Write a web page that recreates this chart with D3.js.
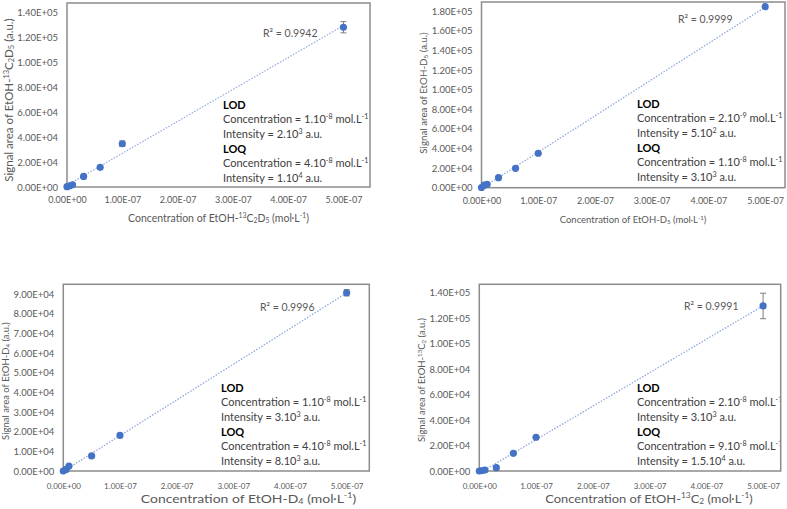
<!DOCTYPE html>
<html>
<head>
<meta charset="utf-8">
<script src="https://cdn.jsdelivr.net/npm/d3@7"></script>
<style>
  body { margin: 0; background: #fff; }
  text { font-family: Lato, "Liberation Sans", sans-serif; }
</style>
</head>
<body>
<svg id="chart" width="787" height="509"></svg>
<script>
// ---- data ----
// concentrations in mol/L, signal areas in a.u., error = half bar height
const conc13C2D5 = [0, 5e-9, 1e-8, 3e-8, 6e-8, 1e-7, 5e-7];
const sig13C2D5  = [300, 1000, 1800, 8500, 15800, 34800, 128500];
const err13C2D5  = [0, 0, 0, 0, 0, 2200, 4500];

const concD5 = [0, 5e-9, 1e-8, 3e-8, 6e-8, 1e-7, 5e-7];
const sigD5  = [200, 2600, 3500, 10200, 19800, 35100, 184500];
const errD5  = [0, 0, 0, 0, 0, 0, 0];

const concD4 = [0, 5e-9, 1e-8, 5e-8, 1e-7, 5e-7];
const sigD4  = [0, 800, 2500, 7700, 18100, 90800];
const errD4  = [0, 0, 0, 0, 0, 1600];

const conc13C2 = [0, 5e-9, 1e-8, 3e-8, 6e-8, 1e-7, 5e-7];
const sig13C2  = [0, 300, 800, 2600, 13900, 26500, 129500];
const err13C2  = [0, 0, 0, 0, 0, 0, 10000];

const r2Labels = ["R\u00B2 = 0.9942", "R\u00B2 = 0.9999", "R\u00B2 = 0.9996", "R\u00B2 = 0.9991"];

// rich text as [text, kind] segments; kind: "" | "sup" | "sub"
const xTitles = [
  [["Concentration of EtOH-", ""], ["13", "sup"], ["C", ""], ["2", "sub"], ["D", ""], ["5", "sub"], [" (mol\u00B7L", ""], ["-1", "sup"], [")", ""]],
  [["Concentration of EtOH-D", ""], ["5", "sub"], [" (mol\u00B7L", ""], ["-1", "sup"], [")", ""]],
  [["Concentration of EtOH-D", ""], ["4", "sub"], [" (mol\u00B7L", ""], ["-1", "sup"], [")", ""]],
  [["Concentration of EtOH-", ""], ["13", "sup"], ["C", ""], ["2", "sub"], [" (mol\u00B7L", ""], ["-1", "sup"], [")", ""]]
];
const yTitles = [
  [["Signal area of EtOH-", ""], ["13", "sup"], ["C", ""], ["2", "sub"], ["D", ""], ["5", "sub"], [" (a.u.)", ""]],
  [["Signal area  of EtOH-D", ""], ["5", "sub"], [" (a.u.)", ""]],
  [["Signal area  of EtOH-D", ""], ["4", "sub"], [" (a.u.)", ""]],
  [["Signal area  of EtOH-", ""], ["13", "sup"], ["C", ""], ["2", "sub"], ["  (a.u.)", ""]]
];

const lodConc = ["1.10", "2.10", "1.10", "2.10"];
const lodConcExp = ["-8", "-9", "-8", "-8"];
const lodInt = ["2.10", "5.10", "3.10", "3.10"];
const lodIntExp = ["3", "2", "3", "3"];
const loqConc = ["4.10", "1.10", "4.10", "9.10"];
const loqConcExp = ["-8", "-8", "-8", "-8"];
const loqInt = ["1.10", "3.10", "8.10", "1.5.10"];
const loqIntExp = ["4", "3", "3", "4"];

const xTickValues = [0, 1e-7, 2e-7, 3e-7, 4e-7, 5e-7];
const yTickMax  = [1.4e5, 1.8e5, 9e4, 1.4e5];
const yTickStep = [2e4, 2e4, 1e4, 2e4];

// ---- layout (pixel boxes of each plot area, font sizes) ----
const panels = [
  { conc: conc13C2D5, sig: sig13C2D5, err: err13C2D5, left: 67, right: 370, top: 3, bottom: 187, xMax: 5.48e-7, yMax: 1.48e5,
    r2: [263, 33], note: [223, 105], yTitleSize: 11.5, yTitleY: 100, xTitleSize: 10.5, xTitleX: 218.5, xTitleDy: 31.5, xTitleStretch: 1, xTickSize: 9, xTickPad: 10 },
  { conc: concD5, sig: sigD5, err: errD5, left: 481.5, right: 785, top: 2, bottom: 187.7, xMax: 5.35e-7, yMax: 1.893e5,
    r2: [678, 19], note: [637, 104], yTitleSize: 9.8, yTitleY: 93, xTitleSize: 9.5, xTitleX: 633, xTitleDy: 31.5, xTitleStretch: 1, xTickSize: 9, xTickPad: 10 },
  { conc: concD4, sig: sigD4, err: errD4, left: 63.3, right: 369.3, top: 284.3, bottom: 471, xMax: 5.4e-7, yMax: 9.51e4,
    r2: [260, 307], note: [221, 388], yTitleSize: 9.5, yTitleY: 381, xTitleSize: 10.5, xTitleX: 248.5, xTitleDy: 28, xTitleStretch: 1.33, xTickSize: 8, xTickPad: 12 },
  { conc: conc13C2, sig: sig13C2, err: err13C2, left: 479.3, right: 780.7, top: 284.3, bottom: 471, xMax: 5.31e-7, yMax: 1.465e5,
    r2: [684, 306], note: [637, 388], yTitleSize: 9.5, yTitleY: 380, xTitleSize: 10.5, xTitleX: 649, xTitleDy: 28, xTitleStretch: 1.23, xTickSize: 8, xTickPad: 12 }
];

const svg = d3.select("#chart");

// Excel style scientific label, e.g. 1.40E+05
function sci(v) {
  const s = (+v).toExponential(2).toUpperCase();
  return s.replace(/E([+-])(\d)$/, "E$10$2");
}

// add segments of rich text to a text element
function rich(textSel, segs, size) {
  segs.forEach(([t, kind]) => {
    const ts = textSel.append("tspan").text(t);
    if (kind === "sup") ts.attr("font-size", size * 0.65).attr("baseline-shift", "super");
    else if (kind === "sub") ts.attr("font-size", size * 0.65).attr("baseline-shift", "-20%");
  });
}

panels.forEach((p, i) => {
  const x = d3.scaleLinear().domain([0, p.xMax]).range([p.left, p.right]);
  const y = d3.scaleLinear().domain([0, p.yMax]).range([p.bottom, p.top]);
  const g = svg.append("g");

  // clip for the annotation text which runs into the border
  const clipId = "clip" + i;
  svg.append("clipPath").attr("id", clipId)
    .append("rect")
    .attr("x", p.left).attr("y", p.top)
    .attr("width", p.right - p.left - 1).attr("height", p.bottom - p.top);

  // axes (labels only, no lines)
  const yTicks = d3.range(0, yTickMax[i] + yTickStep[i] / 2, yTickStep[i]);
  const yAxis = g.append("g")
    .attr("transform", `translate(${p.left},0)`)
    .call(d3.axisLeft(y).tickValues(yTicks).tickFormat(sci).tickSize(0).tickPadding(9));
  const xAxis = g.append("g")
    .attr("transform", `translate(0,${p.bottom})`)
    .call(d3.axisBottom(x).tickValues(xTickValues).tickFormat(sci).tickSize(0).tickPadding(p.xTickPad));
  [xAxis, yAxis].forEach(a => {
    a.select(".domain").remove();
    a.selectAll("text").attr("fill", "#595959")
      .attr("font-family", "Lato, 'Liberation Sans', sans-serif");
  });
  yAxis.selectAll("text").attr("font-size", 9.5);
  xAxis.selectAll("text").attr("font-size", p.xTickSize);

  // plot area border
  g.append("rect")
    .attr("x", p.left).attr("y", p.top)
    .attr("width", p.right - p.left).attr("height", p.bottom - p.top)
    .attr("fill", "none").attr("stroke", "#8c8c8c").attr("stroke-width", 1.5);

  // linear trendline (least squares over the points)
  const mx = d3.mean(p.conc), my = d3.mean(p.sig);
  const slope = d3.sum(p.conc, (c, k) => (c - mx) * (p.sig[k] - my)) / d3.sum(p.conc, c => (c - mx) * (c - mx));
  const icpt = my - slope * mx;
  const xs = [d3.min(p.conc), d3.max(p.conc)];
  g.append("path")
    .attr("d", d3.line().x(d => x(d)).y(d => y(slope * d + icpt))(xs))
    .attr("fill", "none").attr("stroke", "#8faadc").attr("stroke-width", 1.3)
    .attr("stroke-dasharray", "1.5,1.5");

  // error bars
  const pts = p.conc.map((c, k) => ({ c: c, s: p.sig[k], e: p.err[k] }));
  const eb = g.selectAll(".eb").data(pts.filter(d => d.e > 0)).enter().append("g");
  eb.append("line").attr("x1", d => x(d.c)).attr("x2", d => x(d.c))
    .attr("y1", d => y(d.s - d.e)).attr("y2", d => y(d.s + d.e));
  eb.append("line").attr("x1", d => x(d.c) - 3).attr("x2", d => x(d.c) + 3)
    .attr("y1", d => y(d.s - d.e)).attr("y2", d => y(d.s - d.e));
  eb.append("line").attr("x1", d => x(d.c) - 3).attr("x2", d => x(d.c) + 3)
    .attr("y1", d => y(d.s + d.e)).attr("y2", d => y(d.s + d.e));
  eb.selectAll("line").attr("stroke", "#7f7f7f").attr("stroke-width", 1);

  // points
  g.selectAll(".pt").data(pts).enter().append("circle")
    .attr("cx", d => x(d.c)).attr("cy", d => y(d.s)).attr("r", 3.6)
    .attr("fill", "#4472c4");

  // R squared
  g.append("text").attr("x", p.r2[0]).attr("y", p.r2[1]).attr("dy", "0.35em")
    .attr("font-size", 10.5).attr("fill", "#595959").text(r2Labels[i]);

  // LOD / LOQ note
  const note = g.append("g").attr("clip-path", `url(#${clipId})`);
  const lines = [
    { bold: "LOD" },
    { segs: [["Concentration = " + lodConc[i], ""], [lodConcExp[i], "sup"], [" mol.L", ""], ["-1", "sup"]] },
    { segs: [["Intensity = " + lodInt[i], ""], [lodIntExp[i], "sup"], [" a.u.", ""]] },
    { bold: "LOQ" },
    { segs: [["Concentration = " + loqConc[i], ""], [loqConcExp[i], "sup"], [" mol.L", ""], ["-1", "sup"]] },
    { segs: [["Intensity = " + loqInt[i], ""], [loqIntExp[i], "sup"], [" a.u.", ""]] }
  ];
  lines.forEach((l, k) => {
    const t = note.append("text").attr("x", p.note[0]).attr("y", p.note[1] + k * 14.6)
      .attr("dy", "0.35em").attr("font-size", 11);
    if (l.bold) t.attr("font-weight", "bold").attr("fill", "#000").text(l.bold);
    else { t.attr("fill", "#404040"); rich(t, l.segs, 11); }
  });

  // axis titles
  const xt = g.append("text")
    .attr("transform", `translate(${p.xTitleX},${p.bottom + p.xTitleDy}) scale(${p.xTitleStretch},1)`)
    .attr("dy", "0.35em").attr("text-anchor", "middle")
    .attr("font-size", p.xTitleSize).attr("fill", "#595959");
  rich(xt, xTitles[i], p.xTitleSize);
  const yt = g.append("text").attr("transform", `translate(${p.left - 58},${p.yTitleY}) rotate(-90)`)
    .attr("dy", "0.35em").attr("text-anchor", "middle")
    .attr("font-size", p.yTitleSize).attr("fill", "#595959");
  rich(yt, yTitles[i], p.yTitleSize);
});
</script>
</body>
</html>
